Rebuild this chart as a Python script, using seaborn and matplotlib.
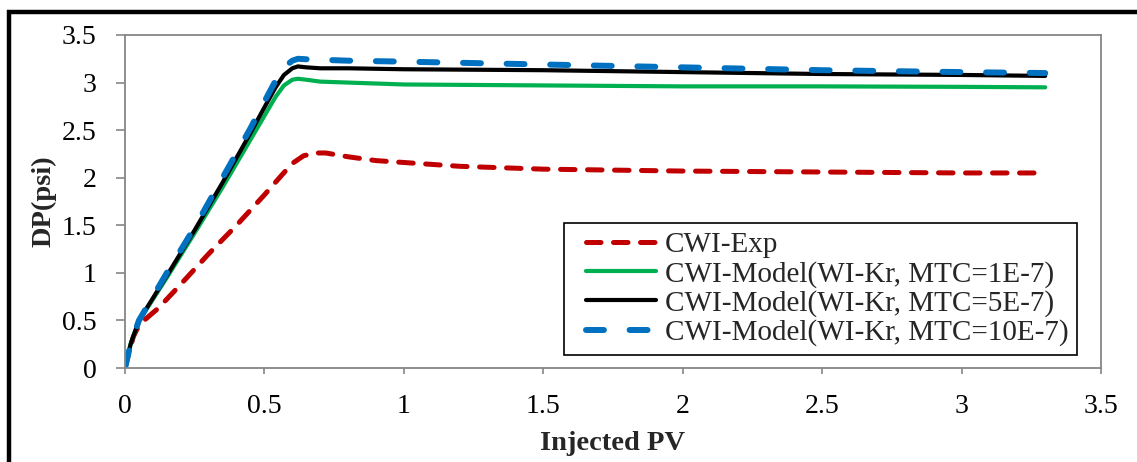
import matplotlib
matplotlib.use("Agg")
import matplotlib.pyplot as plt
import matplotlib.patches as mpatches
from matplotlib.lines import Line2D
from matplotlib.legend_handler import HandlerLine2D
import seaborn as sns
import pandas as pd

# Pressure drop vs injected pore volume
pv_exp = [0, 0.01, 0.03, 0.05, 0.08, 0.12, 0.2, 0.3, 0.4, 0.5, 0.56, 0.6, 0.64, 0.68,
          0.72, 0.8, 0.9, 1.0, 1.2, 1.5, 2.0, 2.5, 3.0, 3.3]
dp_exp = [0, 0.12, 0.33, 0.45, 0.53, 0.63, 0.88, 1.2, 1.5, 1.82, 2.02, 2.15, 2.23, 2.26,
          2.26, 2.22, 2.18, 2.16, 2.12, 2.09, 2.07, 2.06, 2.05, 2.05]

pv_model = [0, 0.02, 0.05, 0.08, 0.15, 0.25, 0.35, 0.45, 0.5, 0.54, 0.57, 0.6, 0.62,
            0.65, 0.7, 0.8, 1.0, 1.5, 2.0, 2.5, 3.0, 3.3]
dp_mtc1 = [0, 0.25, 0.5, 0.63, 0.95, 1.42, 1.9, 2.4, 2.65, 2.85, 2.97, 3.03, 3.04,
           3.03, 3.01, 3.0, 2.98, 2.97, 2.96, 2.96, 2.955, 2.95]
dp_mtc5 = [0, 0.25, 0.5, 0.64, 0.97, 1.45, 1.95, 2.47, 2.74, 2.95, 3.08, 3.15, 3.17,
           3.16, 3.15, 3.15, 3.14, 3.13, 3.11, 3.09, 3.08, 3.07]
dp_mtc10 = [0, 0.25, 0.5, 0.65, 1.0, 1.48, 2.0, 2.52, 2.8, 3.02, 3.16, 3.23, 3.25,
            3.245, 3.24, 3.23, 3.22, 3.19, 3.16, 3.13, 3.11, 3.10]

labels = ["CWI-Exp", "CWI-Model(WI-Kr, MTC=1E-7)", "CWI-Model(WI-Kr, MTC=5E-7)",
          "CWI-Model(WI-Kr, MTC=10E-7)"]
x_ticks = [0, 0.5, 1, 1.5, 2, 2.5, 3, 3.5]
y_ticks = [0, 0.5, 1, 1.5, 2, 2.5, 3, 3.5]

sns.set_style("white")
plt.rcParams["font.family"] = ["Liberation Serif", "DejaVu Serif"]

fig = plt.figure(figsize=(11.37, 4.62), dpi=100)
ax = fig.add_axes([125 / 1137, 1 - 368 / 462, 976 / 1137, 333 / 462])

series = [
    (pv_exp, dp_exp, "#C00000", 3.6, (0, (2.9, 2.5))),
    (pv_model, dp_mtc1, "#00B050", 3.0, "-"),
    (pv_model, dp_mtc5, "#000000", 3.0, "-"),
    (pv_model, dp_mtc10, "#0070C0", 4.3, (0, (3.0, 4.3))),
]
for (xs, ys, color, lw, ls), lab in zip(series, labels):
    df = pd.DataFrame({"pv": xs, "dp": ys})
    sns.lineplot(data=df, x="pv", y="dp", ax=ax, color=color, linewidth=lw,
                 linestyle=ls, label=lab, sort=False, estimator=None,
                 dash_capstyle="round", solid_capstyle="round")

ax.set_xlim(0, 3.5)
ax.set_ylim(0, 3.5)
ax.set_xticks(x_ticks)
ax.set_yticks(y_ticks)
ax.set_xticklabels([f"{t:g}" for t in x_ticks])
ax.set_yticklabels([f"{t:g}" for t in y_ticks])
ax.tick_params(axis="both", labelsize=20, direction="out", width=1.2,
               color="#868686", labelcolor="black")
ax.tick_params(axis="x", bottom=True, length=4.5, pad=14)
ax.tick_params(axis="y", left=True, length=6.5, pad=14)
for sp in ax.spines.values():
    sp.set_color("#868686")
    sp.set_linewidth(1.3)

ax.set_xlabel("Injected PV", fontsize=20.5, fontweight="bold", labelpad=9)
ax.set_ylabel("DP(psi)", fontsize=20.5, fontweight="bold", labelpad=4)

leg = ax.legend(loc="lower right", bbox_to_anchor=(952 / 976, 13 / 333),
                fontsize=21, frameon=True, fancybox=False, edgecolor="black",
                framealpha=1, handlelength=2.85, handletextpad=0.3, labelspacing=0.08,
                borderpad=0.3, borderaxespad=0,
                handler_map={Line2D: HandlerLine2D(xpad=0.45)})
leg.get_frame().set_linewidth(1.2)

# outer chart border
fig.patches.append(mpatches.Rectangle((9 / 1137, -0.05), 1.1, 0.05 + 1 - 12 / 462,
                                      transform=fig.transFigure, fill=False,
                                      edgecolor="black", linewidth=3.2))

fig.savefig("out.png", dpi=100)
